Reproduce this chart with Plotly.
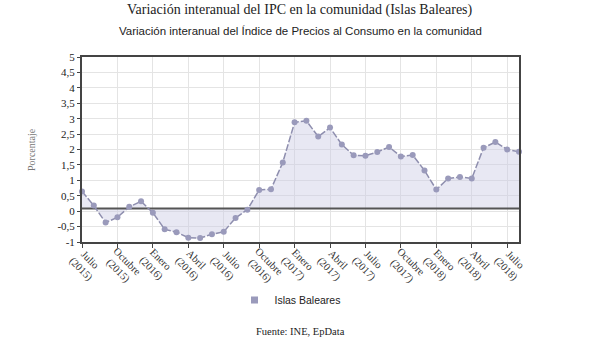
import math
import plotly.graph_objects as go

months = list(range(38))  # Jul 2015 .. Aug 2018
values = [0.64, 0.18, -0.37, -0.20, 0.14, 0.32, -0.05, -0.59, -0.68, -0.86,
          -0.87, -0.75, -0.67, -0.22, 0.05, 0.69, 0.71, 1.58, 2.88, 2.93,
          2.42, 2.71, 2.16, 1.81, 1.80, 1.92, 2.08, 1.77, 1.82, 1.32,
          0.70, 1.06, 1.11, 1.06, 2.06, 2.24, 2.00, 1.93]
baseline = 0.09
tick_pos = list(range(0, 38, 3))
tick_month = ["Julio", "Octubre", "Enero", "Abril", "Julio", "Octubre", "Enero",
              "Abril", "Julio", "Octubre", "Enero", "Abril", "Julio"]
tick_year = ["(2015)", "(2015)", "(2016)", "(2016)", "(2016)", "(2016)", "(2017)",
             "(2017)", "(2017)", "(2017)", "(2018)", "(2018)", "(2018)"]
y_ticks = [-1, -0.5, 0, 0.5, 1, 1.5, 2, 2.5, 3, 3.5, 4, 4.5, 5]
y_text = [str(v).replace(".", ",") for v in y_ticks]

H = 338 - 57 - 96
W = 600 - 82 - 81
def py(pix):
    return (338 - 96 - pix) / H
def px(pix):
    return (pix - 82) / W

# approximate Times-like glyph widths (per 1000 em) to place rotated labels
CW = {"(": 333, ")": 333, "J": 389, "u": 500, "l": 278, "i": 278, "o": 500, "O": 722,
      "c": 444, "t": 278, "b": 500, "r": 333, "e": 444, "E": 611, "n": 500, "A": 722}
LBL_SIZE = 10.5
def text_w(s, size=LBL_SIZE):
    return sum(CW.get(ch, 500) for ch in s) * size / 1000.0

fig = go.Figure()
fig.add_trace(go.Scatter(x=months, y=[baseline] * len(months), mode="lines",
                         line=dict(color="#555555", width=2), showlegend=False,
                         hoverinfo="skip"))
fig.add_trace(go.Scatter(x=months, y=values, mode="lines+markers",
                         line=dict(color="#8e8eae", width=1.5, dash="7px,2px"),
                         marker=dict(color="#9a9abb", size=6),
                         fill="tonexty", fillcolor="rgba(205,205,228,0.45)",
                         showlegend=False, cliponaxis=False))
fig.add_trace(go.Scatter(x=[None], y=[None], mode="markers", name="Islas Baleares",
                         marker=dict(symbol="square", color="#9a9abb", size=7)))

annotations = [
    dict(text="Variación interanual del IPC en la comunidad (Islas Baleares)",
         x=px(300), y=py(10), font=dict(family="Liberation Serif", size=14, color="#222222")),
    dict(text="Variación interanual del Índice de Precios al Consumo en la comunidad",
         x=px(300), y=py(31), font=dict(family="Liberation Sans", size=11.5, color="#222222")),
    dict(text="Porcentaje", textangle=-90, x=px(31), y=py(150),
         font=dict(family="Liberation Serif", size=10, color="#777777")),
    dict(text="Fuente: INE, EpData", x=px(300), y=py(331),
         font=dict(family="Liberation Serif", size=10.5, color="#222222")),
]
for a in annotations:
    a.update(xref="paper", yref="paper", xanchor="center", yanchor="middle", showarrow=False)

# rotated two-line tick labels, block top-left anchored near each tick
c45 = math.cos(math.radians(45))
lh = 13.0
ax_off, ay_off = 2.5, 3.0  # block anchor relative to tick / axis bottom (px)
for pos, m, yr in zip(tick_pos, tick_month, tick_year):
    w = max(text_w(m), text_w(yr))
    for i, line in enumerate([m, yr]):
        cx = ax_off + (w / 2) * c45 - (i + 0.5) * lh * c45
        cy = ay_off + (w / 2) * c45 + (i + 0.5) * lh * c45
        annotations.append(dict(text=line, x=pos, xref="x", y=0, yref="paper",
                                xanchor="center", yanchor="middle", textangle=45,
                                showarrow=False, xshift=cx, yshift=-cy,
                                font=dict(family="Liberation Serif", size=LBL_SIZE,
                                          color="#333333")))

fig.update_layout(
    width=600, height=338,
    margin=dict(l=82, r=81, t=57, b=96),
    paper_bgcolor="white", plot_bgcolor="white",
    font=dict(family="Liberation Serif", color="#222222", size=11),
    showlegend=True,
    legend=dict(orientation="h", x=px(290), xanchor="center", y=py(300), yanchor="middle",
                itemwidth=30,
                font=dict(family="Liberation Sans", size=10.5, color="#222222")),
    xaxis=dict(range=[0, 37], tickvals=tick_pos, showticklabels=False,
               showgrid=True, gridcolor="#e4e4e4", gridwidth=1,
               showline=True, linecolor="#444444", linewidth=2, mirror=True,
               ticks="outside", ticklen=4, tickcolor="#444444", zeroline=False),
    yaxis=dict(range=[-1, 5], tickvals=y_ticks, ticktext=y_text,
               showgrid=True, gridcolor="#e4e4e4", gridwidth=1,
               showline=True, linecolor="#444444", linewidth=2, mirror=True,
               ticks="outside", ticklen=3, tickcolor="#444444",
               tickfont=dict(family="Liberation Serif", size=11), zeroline=False),
    annotations=annotations,
)

fig.write_html("out.html")
